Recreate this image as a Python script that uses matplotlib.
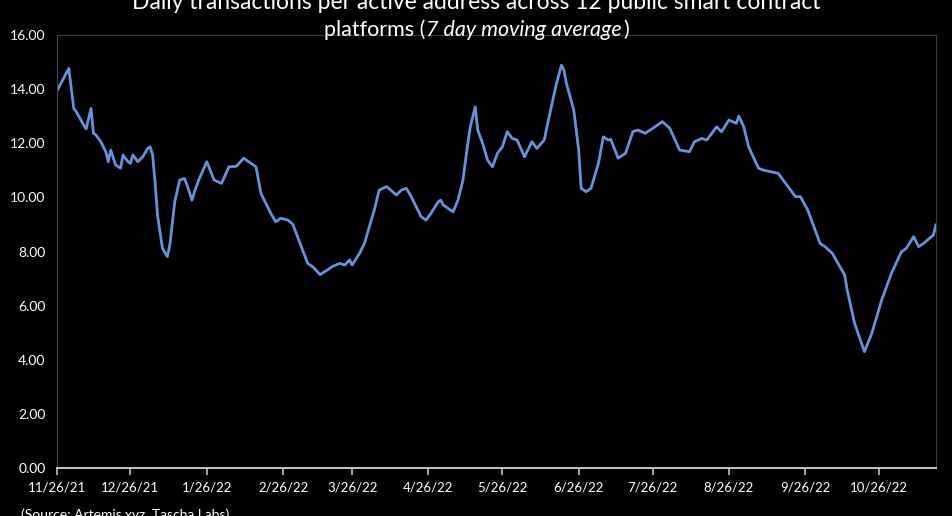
import datetime as dt
import matplotlib
matplotlib.use("Agg")
import matplotlib.pyplot as plt
import matplotlib.dates as mdates

# data: days since 11/26/21 and the 7 day moving average
start = dt.date(2021, 11, 26)
day_offsets = [0, 5, 7, 8, 11, 12, 14, 15, 16, 18, 20, 21, 22, 24, 26, 27, 29, 30,
               31, 33, 35, 37, 38, 39, 40, 41, 43, 45, 46, 48, 50, 52, 53, 55, 56,
               58, 61, 64, 67, 70, 73, 76, 79, 81, 83, 87, 89, 91, 94, 96, 97, 102,
               104, 107, 110, 112, 115, 117, 119, 120, 123, 125, 129, 131, 134, 138,
               140, 142, 144, 148, 150, 152, 155, 156, 157, 160, 161, 163, 165, 167,
               168, 170, 171, 173, 175, 177, 179, 181, 183, 185, 187, 190, 193, 195,
               198, 200, 203, 205, 206, 207, 210, 212, 213, 215, 217, 220, 222, 224,
               225, 228, 231, 234, 236, 239, 242, 246, 249, 253, 257, 259, 262, 264,
               268, 270, 273, 276, 277, 279, 281, 285, 287, 290, 293, 297, 300, 302,
               305, 310, 312, 315, 320, 321, 324, 328, 331, 335, 339, 343, 345, 348,
               350, 352, 356, 357]
tx_per_address = [13.91, 14.77, 13.29, 13.17, 12.68, 12.53, 13.29, 12.37, 12.31, 12.06,
                  11.69, 11.32, 11.75, 11.20, 11.08, 11.57, 11.32, 11.26, 11.57, 11.32,
                  11.50, 11.81, 11.87, 11.57, 10.58, 9.35, 8.12, 7.81, 8.24, 9.84,
                  10.64, 10.70, 10.46, 9.90, 10.21, 10.70, 11.32, 10.64, 10.52, 11.13,
                  11.15, 11.45, 11.26, 11.13, 10.15, 9.41, 9.10, 9.23, 9.16, 9.00,
                  8.75, 7.56, 7.44, 7.15, 7.32, 7.45, 7.56, 7.50, 7.69, 7.50,
                  7.93, 8.30, 9.53, 10.27, 10.40, 10.09, 10.27, 10.34, 10.03, 9.29,
                  9.16, 9.41, 9.84, 9.90, 9.72, 9.53, 9.47, 9.90, 10.64, 12.00,
                  12.61, 13.35, 12.49, 12.00, 11.38, 11.13, 11.63, 11.87, 12.43, 12.18,
                  12.12, 11.50, 12.06, 11.81, 12.12, 12.98, 14.22, 14.89, 14.71, 14.22,
                  13.23, 11.75, 10.34, 10.21, 10.34, 11.26, 12.24, 12.12, 12.15, 11.45,
                  11.63, 12.43, 12.49, 12.37, 12.55, 12.80, 12.55, 11.75, 11.69, 12.06,
                  12.18, 12.12, 12.61, 12.43, 12.86, 12.74, 13.01, 12.61, 11.87, 11.08,
                  11.01, 10.95, 10.89, 10.40, 10.03, 10.03, 9.53, 8.30, 8.18, 7.93,
                  7.13, 6.58, 5.35, 4.30, 4.98, 6.21, 7.20, 7.99, 8.12, 8.55,
                  8.18, 8.30, 8.61, 8.98]
dates = [start + dt.timedelta(days=d) for d in day_offsets]

tick_dates = [dt.date(2021, 11, 26), dt.date(2021, 12, 26), dt.date(2022, 1, 26),
              dt.date(2022, 2, 26), dt.date(2022, 3, 26), dt.date(2022, 4, 26),
              dt.date(2022, 5, 26), dt.date(2022, 6, 26), dt.date(2022, 7, 26),
              dt.date(2022, 8, 26), dt.date(2022, 9, 26), dt.date(2022, 10, 26)]
tick_labels = ['11/26/21', '12/26/21', '1/26/22', '2/26/22', '3/26/22', '4/26/22',
               '5/26/22', '6/26/22', '7/26/22', '8/26/22', '9/26/22', '10/26/22']
y_ticks = [0, 2, 4, 6, 8, 10, 12, 14, 16]

plt.rcParams['font.family'] = ['Lato', 'DejaVu Sans']

fig = plt.figure(figsize=(9.53, 5.16), dpi=100, facecolor='black')
ax = fig.add_axes([0.0593, 0.093, 0.9227, 0.839], facecolor='black')

ax.plot(dates, tx_per_address, color='#6592dc', linewidth=2.0, solid_joinstyle='round')

ax.set_ylim(0, 16)
ax.set_xlim(start, start + dt.timedelta(days=357.4))
ax.set_yticks(y_ticks)
ax.set_yticklabels(['%.2f' % v for v in y_ticks])
ax.set_xticks(tick_dates)
ax.set_xticklabels(tick_labels)

ax.tick_params(axis='y', length=0, pad=8, labelcolor='white', labelsize=10)
ax.tick_params(axis='x', length=5, width=1.2, color='#bfbfbf', direction='out',
               pad=5, labelcolor='white', labelsize=9.5)

for side in ['top', 'right']:
    ax.spines[side].set_color('#3a3a3a')
    ax.spines[side].set_linewidth(0.8)
ax.spines['left'].set_color('#4a4a4a')
ax.spines['left'].set_linewidth(0.8)
ax.spines['bottom'].set_color('#bfbfbf')
ax.spines['bottom'].set_linewidth(1.5)

# title with an italic part in the second line
fig.text(0.5, 0.995, 'Daily transactions per active address across 12 public smart contract',
         ha='center', va='center', color='white', fontsize=16.5)
fig.canvas.draw()
rend = fig.canvas.get_renderer()
pieces = [('platforms (', 'normal'), ('7 day moving average', 'italic'), (')', 'normal')]
texts = []
for s, style in pieces:
    t = fig.text(0, 0.942, s, ha='left', va='center', color='white', fontsize=15.5,
                 style=style)
    texts.append(t)
widths = [t.get_window_extent(rend).width for t in texts]
total = sum(widths) + 3
x = fig.bbox.width / 2 - total / 2
for t, w in zip(texts, widths):
    t.set_x(x / fig.bbox.width)
    x += w + 1.5

fig.text(0.022, 0.003, '(Source: Artemis.xyz, Tascha Labs)', ha='left', va='center',
         color='white', fontsize=10)

fig.savefig('out.png', dpi=100, facecolor='black')
